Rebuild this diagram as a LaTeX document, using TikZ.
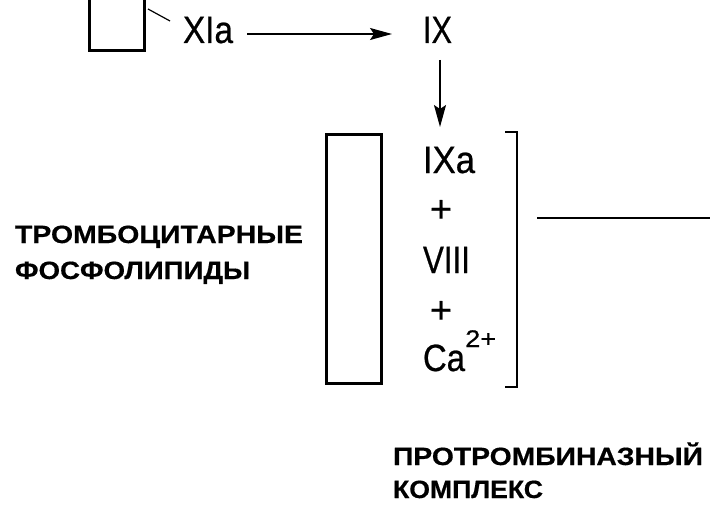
\documentclass[tikz,border=0pt]{standalone}
\usepackage{fontspec}
\setmainfont{Liberation Sans}
\newfontfamily\lblfont[FakeBold=0.6]{Liberation Sans}
\newfontfamily\cyrfont[FakeBold=0.5]{Liberation Sans Bold}
\usetikzlibrary{arrows.meta,calc}
\begin{document}
\begin{tikzpicture}[x=1pt,y=-1pt,
  lbl/.style={anchor=base west,inner sep=0pt,outer sep=0pt,font=\lblfont\fontsize{38}{40}\selectfont},
  cyr/.style={anchor=base west,inner sep=0pt,outer sep=0pt,font=\cyrfont\fontsize{25}{27}\selectfont},
  plus/.style={inner sep=0pt,font=\lblfont\fontsize{38}{40}\selectfont},
  thickbox/.style={draw,line width=3pt,inner sep=0pt},
  arr/.style={line width=1.6pt,-{Stealth[length=22pt,width=12pt,inset=4pt]}},
  thin/.style={line width=1.4pt}]
\useasboundingbox[fill=white] (0,0) rectangle (710,511);
% small box (cut by the top edge)
\node[thickbox,minimum width=55pt,minimum height=64pt] (xibox) at (117,18.5) {};
% labels
\node[lbl] (xia) at (183,43) {\resizebox{50pt}{\height}{XIa}};
\node[lbl] (ix) at (423,43) {\resizebox{29pt}{\height}{IX}};
\node[lbl] (ixa) at (423,173) {\resizebox{52pt}{\height}{IXa}};
\node[plus] (p1) at (441,211) {+};
\node[lbl] (viii) at (423,273) {\resizebox{47pt}{\height}{VIII}};
\node[plus] (p2) at (441,312) {+};
\node[lbl] (ca) at (423,371) {\resizebox{42pt}{\height}{Ca}};
\node[anchor=base west,inner sep=0pt,font=\lblfont\fontsize{24}{26}\selectfont] (sup) at (465,347) {\resizebox{31pt}{\height}{2+}};
% big plate
\node[thickbox,minimum width=55pt,minimum height=249pt] (plate) at (354,259) {};
% cyrillic labels
\node[cyr] (tr1) at (15,243) {\resizebox{288pt}{\height}{ТРОМБОЦИТАРНЫЕ}};
\node[cyr] (tr2) at (15,279) {\resizebox{235pt}{\height}{ФОСФОЛИПИДЫ}};
\node[cyr] (pk1) at (393,465) {\resizebox{310pt}{\height}{ПРОТРОМБИНАЗНЫЙ}};
\node[cyr] (pk2) at (393,498) {\resizebox{150pt}{\height}{КОМПЛЕКС}};
% connectors
\draw[line width=1.2pt] ([shift={(2,-9.5)}]xibox.east) -- ([shift={(-13,-22)}]xia.base west);
\draw[arr] ([shift={(14,-9)}]xia.base east) -- ([shift={(-31,-9)}]ix.base west);
\draw[arr] ([shift={(17,17)}]ix.base west) -- ([shift={(17,-46)}]ixa.base west);
% bracket
\draw[thin] (505,132) -- (517,132) -- (517,387) -- (505,387);
% outgoing line
\coordinate (outA) at (537,218);
\coordinate (outB) at (710,218);
\draw[thin] (outA) -- (outB);
\end{tikzpicture}
\end{document}
